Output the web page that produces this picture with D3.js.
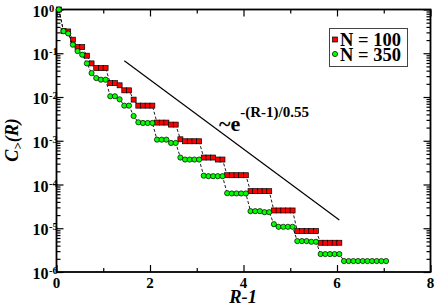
<!DOCTYPE html>
<html><head><meta charset="utf-8">
<script src="https://cdn.jsdelivr.net/npm/d3@7"></script>
<style>body{margin:0;background:#fff}svg{display:block}</style>
</head><body>
<svg id="c" width="436" height="306"></svg>
<script>
// R-1 positions of the points
const xs = [0.05,0.15,0.25,0.35,0.45,0.55,0.65,0.75,0.85,0.95,
  1.05,1.15,1.25,1.35,1.45,1.55,1.65,1.75,1.85,1.95,
  2.05,2.15,2.25,2.35,2.45,2.55,2.65,2.75,2.85,2.95,
  3.05,3.15,3.25,3.35,3.45,3.55,3.65,3.75,3.85,3.95,
  4.05,4.15,4.25,4.35,4.45,4.55,4.65,4.75,4.85,4.95,
  5.05,5.15,5.25,5.35,5.45,5.55,5.65,5.75,5.85,5.95,
  6.05,6.15,6.25,6.35,6.45,6.55,6.65,6.75,6.85,6.95,7.05];
// N = 100 (red squares)
const n100 = [1,0.320,0.315,0.204,0.138,0.138,0.0878,0.0586,0.0458,0.0458,
  0.0458,0.0208,0.0208,0.0185,0.0142,0.0142,0.00871,0.00635,0.00635,0.00635,
  0.00635,0.00260,0.00260,0.00260,0.00234,0.00234,0.00108,0.000973,0.000973,0.000973,
  0.000973,0.000413,0.000413,0.000413,0.000372,0.000372,0.000163,0.000163,0.000163,0.000163,
  0.000163,7.04e-5,7.04e-5,7.04e-5,7.04e-5,7.04e-5,2.55e-5,2.55e-5,2.55e-5,2.55e-5,
  2.55e-5,8.6e-6,8.6e-6,8.6e-6,8.6e-6,8.6e-6,4.66e-6,4.66e-6,4.66e-6,4.66e-6,4.66e-6];
// N = 350 (green circles)
const n350 = [1,0.320,0.283,0.157,0.112,0.0926,0.0586,0.0352,0.0271,0.0249,
  0.0249,0.0104,0.0104,0.00885,0.00635,0.00635,0.00368,0.00264,0.00255,0.00255,
  0.00255,0.00106,0.00106,0.00106,0.000891,0.000891,0.000413,0.000372,0.000372,0.000372,
  0.000372,0.000159,0.000155,0.000155,0.000155,0.000155,6.34e-5,6.24e-5,6.24e-5,6.24e-5,
  6.24e-5,2.46e-5,2.46e-5,2.46e-5,2.33e-5,2.33e-5,1.24e-5,1.08e-5,1.08e-5,1.08e-5,
  1.08e-5,5.09e-6,5.09e-6,5.09e-6,4.91e-6,4.91e-6,2.57e-6,2.57e-6,2.57e-6,2.57e-6,
  2.57e-6,1.78e-6,1.78e-6,1.78e-6,1.78e-6,1.78e-6,1.78e-6,1.78e-6,1.78e-6,1.78e-6,1.78e-6];
const xTicks = [0,2,4,6,8];
const xMinor = [1,3,5,7];
const yExps = [0,-1,-2,-3,-4,-5,-6];
const fitX = [1.45, 6.05];
const fitY = [0.0675, 1.55e-5];
const legendLabels = ["N = 100","N = 350"];
const fitLabelBase = "~e";
const fitLabelSup = "-(R-1)/0.55";

const svg = d3.select("#c");
const L=56.5, R=430.5, T=9.5, B=272;
const x = d3.scaleLinear().domain([0,8]).range([L,R]);
const y = d3.scaleLog().domain([1e-6,1]).range([B,T]);
const font = "'Liberation Serif','Times New Roman',serif";

const yMajor = yExps.map(e=>Math.pow(10,e));
const yMinor = [];
yExps.slice(0,-1).forEach(e=>{ for(let m=2;m<=9;m++) yMinor.push(m*Math.pow(10,e-1)); });

function ax(gen, tx, ty, vals, size){
  const g = svg.append("g").attr("transform",`translate(${tx},${ty})`)
    .call(gen.tickValues(vals).tickSize(size).tickFormat(""));
  g.select(".domain").remove();
  g.selectAll("text").remove();
  g.selectAll("line").attr("stroke","#000").attr("stroke-width",1.2);
  return g;
}
ax(d3.axisBottom(x), 0, B, xTicks, -7);
ax(d3.axisBottom(x), 0, B, xMinor, -4);
ax(d3.axisTop(x), 0, T, xTicks, -7);
ax(d3.axisTop(x), 0, T, xMinor, -4);
ax(d3.axisLeft(y), L, 0, yMajor, -7);
ax(d3.axisLeft(y), L, 0, yMinor, -4);
ax(d3.axisRight(y), R, 0, yMajor, -7);
ax(d3.axisRight(y), R, 0, yMinor, -4);

svg.append("rect").attr("x",L).attr("y",T).attr("width",R-L).attr("height",B-T)
  .attr("fill","none").attr("stroke","#000").attr("stroke-width",1.8);

// x tick labels
svg.selectAll(".xl").data(xTicks).join("text")
  .attr("x",d=>x(d)).attr("y",B+16).attr("text-anchor","middle")
  .attr("font-family",font).attr("font-weight","bold").attr("font-size",15)
  .text(d=>d);
// y tick labels
yExps.forEach(e=>{
  const yy = y(Math.pow(10,e));
  svg.append("text").attr("x",48.5).attr("y",yy+7).attr("text-anchor","end")
    .attr("font-family",font).attr("font-weight","bold").attr("font-size",16).text("10");
  svg.append("text").attr("x",49).attr("y",yy+2).attr("text-anchor","start")
    .attr("font-family",font).attr("font-weight","bold").attr("font-size",10.5).text(e===0?"0":"-"+(-e));
});

// axis titles
svg.append("text").attr("x",243).attr("y",302.5).attr("text-anchor","middle")
  .attr("font-family",font).attr("font-weight","bold").attr("font-style","italic")
  .attr("font-size",18.5).text("R-1");
const yt = svg.append("text").attr("transform","translate(18,140) rotate(-90)")
  .attr("text-anchor","middle").attr("font-family",font).attr("font-weight","bold")
  .attr("font-style","italic").attr("font-size",18);
yt.append("tspan").text("C");
yt.append("tspan").attr("font-size",13).attr("dy",4).text(">");
yt.append("tspan").attr("dy",-4).text("(R)");

// fit line
svg.append("line").attr("x1",x(fitX[0])).attr("y1",y(fitY[0]))
  .attr("x2",x(fitX[1])).attr("y2",y(fitY[1])).attr("stroke","#000").attr("stroke-width",1.2);
const ft = svg.append("text").attr("x",219).attr("y",131).attr("font-family",font).attr("font-weight","bold");
ft.append("tspan").attr("font-size",22).text(fitLabelBase);
ft.append("tspan").attr("font-size",15).attr("dy",-14).text(fitLabelSup);

// series
const line = d3.line().x(d=>x(d[0])).y(d=>y(d[1]));
const redPts = n100.map((v,i)=>[xs[i],v]);
const grnPts = n350.map((v,i)=>[xs[i],v]);
svg.append("path").attr("d",line(redPts)).attr("fill","none").attr("stroke","#000")
  .attr("stroke-width",0.9).attr("stroke-dasharray","3,2");
svg.selectAll(".rs").data(redPts).join("rect")
  .attr("x",d=>x(d[0])-2.5).attr("y",d=>y(d[1])-2.5).attr("width",5).attr("height",5)
  .attr("fill","#ff0000").attr("stroke","#000").attr("stroke-width",0.7);
svg.append("path").attr("d",line(grnPts)).attr("fill","none").attr("stroke","#000")
  .attr("stroke-width",0.9).attr("stroke-dasharray","3,2");
svg.selectAll(".gc").data(grnPts).join("circle")
  .attr("cx",d=>x(d[0])).attr("cy",d=>y(d[1])).attr("r",2.6)
  .attr("fill","#00ff00").attr("stroke","#000").attr("stroke-width",0.7);

// legend
svg.append("rect").attr("x",329.5).attr("y",28.5).attr("width",78).attr("height",38)
  .attr("fill","#fff").attr("stroke","#444").attr("stroke-width",1);
svg.append("rect").attr("x",332.5).attr("y",37).attr("width",5).attr("height",5)
  .attr("fill","#ff0000").attr("stroke","#000").attr("stroke-width",0.7);
svg.append("circle").attr("cx",335).attr("cy",54).attr("r",2.6)
  .attr("fill","#00ff00").attr("stroke","#000").attr("stroke-width",0.7);
legendLabels.forEach((t,i)=>{
  svg.append("text").attr("x",340).attr("y",45.5+i*15).attr("font-family",font)
    .attr("font-weight","bold").attr("font-size",18.5).text(t);
});
</script>
</body></html>
